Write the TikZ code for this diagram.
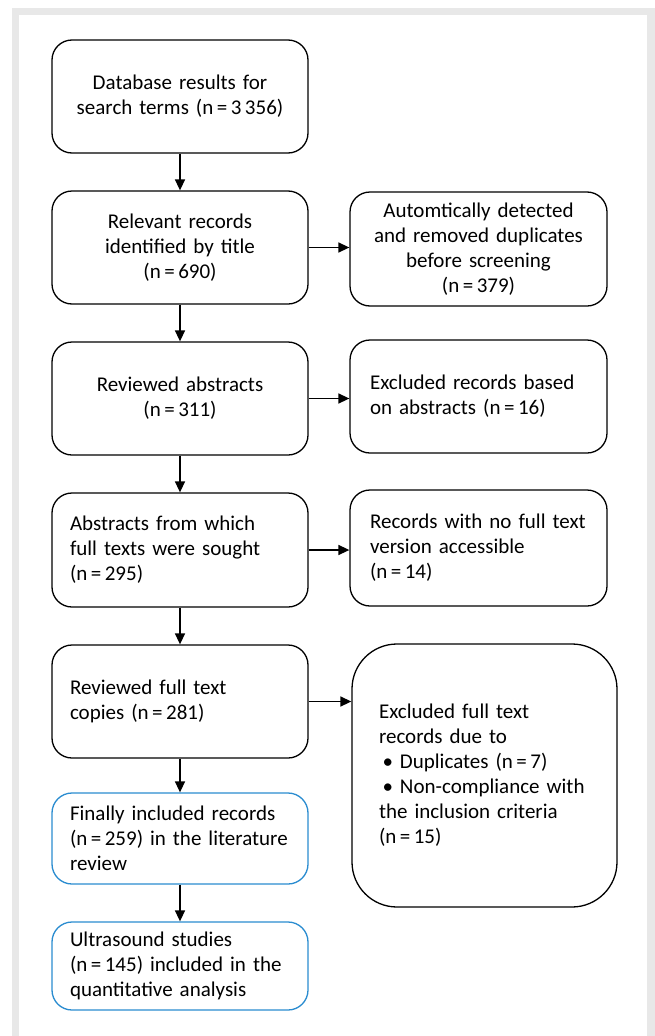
\documentclass[tikz,border=0pt]{standalone}
\usepackage{fontspec}
\setmainfont{Carlito}
\usepackage{tikz}
\usetikzlibrary{arrows.meta,positioning}
\definecolor{framegray}{RGB}{232,232,232}
\definecolor{inclblue}{RGB}{42,140,208}
\tikzset{
    box/.style={draw, line width=1.3pt, rounded corners=20pt, minimum width=256pt, minimum height=113pt,
        text width=220pt, inner xsep=18pt, align=center, font=\fontsize{21pt}{25pt}\selectfont},
    leftbox/.style={box, align=left},
    bluebox/.style={leftbox, draw=inclblue},
    sidebox/.style={box, minimum width=257pt, text width=217pt, inner xsep=20pt},
    flow/.style={line width=1.5pt, -{Triangle[length=11pt,width=10pt]}}
}

\begin{document}
\begin{tikzpicture}[x=1pt,y=1pt]
        \useasboundingbox (0,0) rectangle (655,-1036);
        \fill[framegray] (12,-8) rectangle (655,-1036);
        \fill[white] (19,-15) rectangle (647,-1036);
        \node[box] (db) at (180,-96.5) {Database results for\\search terms (n\,=\,3\,356)};
        \node[box] (title) at (180,-247.5) {Relevant records\\identified by title\\(n\,=\,690)};
        \node[box] (abstr) at (180,-398.5) {Reviewed abstracts\\(n\,=\,311)};
        \node[leftbox, minimum height=114pt] (sought) at (180,-550) {Abstracts from which\\full texts were sought\\(n\,=\,295)};
        \node[leftbox] (full) at (180,-701.5) {Reviewed full text\\copies (n\,=\,281)};
        \node[bluebox, minimum height=91pt] (incl) at (180,-838.5) {Finally included records\\(n\,=\,259) in the literature\\review};
        \node[bluebox, minimum height=88pt] (quant) at (180,-966) {Ultrasound studies\\(n\,=\,145) included in the\\quantitative analysis};
        \node[sidebox, minimum height=114pt] (dupl) at (478.5,-249) {Automtically detected\\and removed duplicates\\before screening\\(n\,=\,379)};
        \node[sidebox, align=left] (exabs) at (478.5,-396.5) {Excluded records based\\on abstracts (n\,=\,16)};
        \node[sidebox, align=left, minimum height=116pt] (noacc) at (478.5,-548) {Records with no full text\\version accessible\\(n\,=\,14)};
        \node[sidebox, align=left, rounded corners=45pt, minimum width=265pt, minimum height=263pt,
            text width=211pt, inner xsep=27pt] (exfull) at (484.5,-775.5) {Excluded full text\\records due to\\\,•\ Duplicates (n\,=\,7)\\\,•\ Non-compliance with\\the inclusion criteria\\(n\,=\,15)};
        \draw[flow] (db) -- (title);
        \draw[flow] (title) -- (abstr);
        \draw[flow] (abstr) -- (sought);
        \draw[flow] (sought) -- (full);
        \draw[flow] (full) -- (incl);
        \draw[flow] (incl) -- (quant);
        \draw[flow] (title.east) -- (title.east -| dupl.west);
        \draw[flow] (abstr.east) -- (abstr.east -| exabs.west);
        \draw[flow] (sought.east) -- (sought.east -| noacc.west);
        \draw[flow] (full.east) -- (full.east -| exfull.west);
    \end{tikzpicture}
\end{document}
